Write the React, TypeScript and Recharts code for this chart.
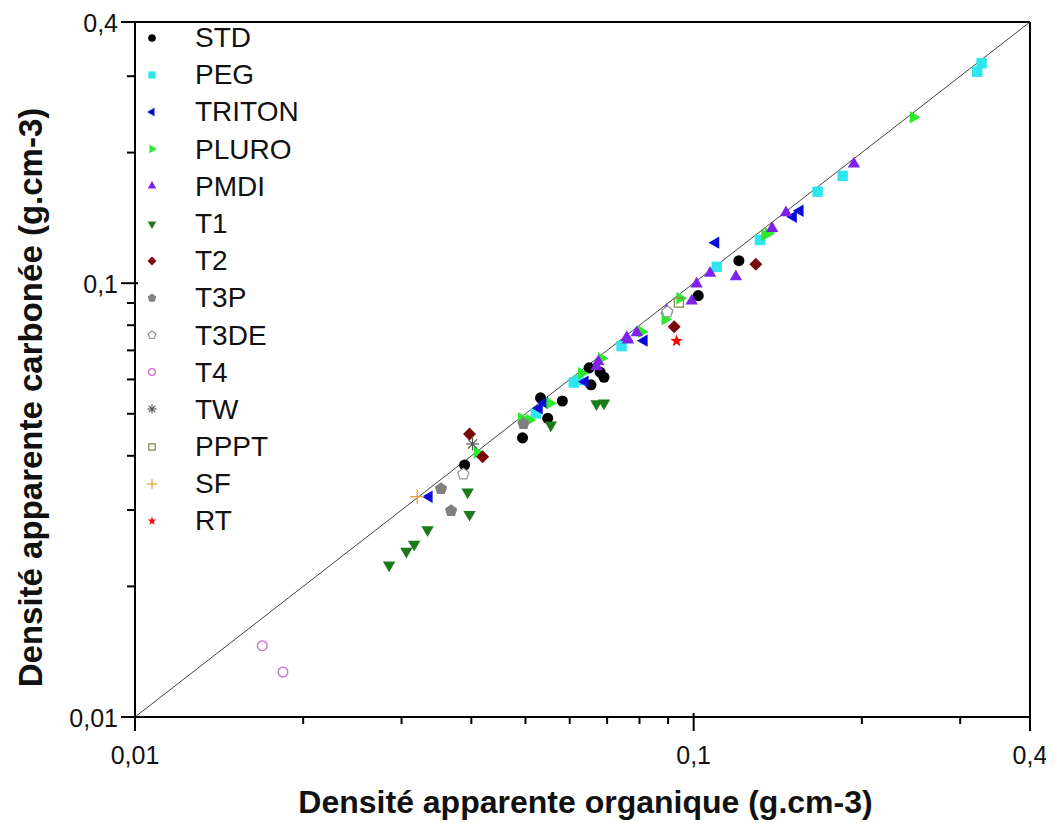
import React from "react";
import {
  ScatterChart,
  Scatter,
  XAxis,
  YAxis,
  ReferenceLine,
} from "recharts";

type Pt = [number, number];

// [densité organique, densité carbonée]
const STD: Pt[] = [
  [0.0389, 0.0381], [0.0494, 0.044], [0.0532, 0.0544], [0.0548, 0.0488],
  [0.0582, 0.0535], [0.065, 0.0638], [0.068, 0.0624], [0.0691, 0.0607],
  [0.0655, 0.0583], [0.1019, 0.0936], [0.1205, 0.1127],
];
const PEG: Pt[] = [
  [0.0522, 0.0501], [0.0622, 0.0598], [0.061, 0.059], [0.0743, 0.0716],
  [0.11, 0.1091], [0.1314, 0.1258], [0.1667, 0.1625], [0.1848, 0.1767],
  [0.3277, 0.3213], [0.3218, 0.3073],
];
const TRITON: Pt[] = [
  [0.0336, 0.0322], [0.0529, 0.0515], [0.054, 0.053], [0.0639, 0.0593],
  [0.0815, 0.0737], [0.1095, 0.124], [0.155, 0.1469], [0.1508, 0.1423],
];
const PLURO: Pt[] = [
  [0.041, 0.0407], [0.0492, 0.0488], [0.0508, 0.0484], [0.0553, 0.0529],
  [0.063, 0.062], [0.0684, 0.0671], [0.0807, 0.0773], [0.0889, 0.0826],
  [0.0945, 0.0923], [0.1341, 0.1291], [0.136, 0.1303], [0.2472, 0.2412],
];
const PMDI: Pt[] = [
  [0.067, 0.0642], [0.0675, 0.0659], [0.0759, 0.075], [0.0763, 0.074],
  [0.0791, 0.0769], [0.0895, 0.0867], [0.0992, 0.091], [0.1012, 0.0996],
  [0.107, 0.1054], [0.119, 0.1035], [0.1382, 0.1338], [0.1463, 0.1454],
  [0.1936, 0.1883],
];
const T1: Pt[] = [
  [0.0285, 0.0224], [0.0306, 0.0241], [0.0316, 0.025], [0.0334, 0.027],
  [0.0394, 0.033], [0.0397, 0.0293], [0.0555, 0.0471], [0.067, 0.0527],
  [0.0691, 0.0529],
];
const T2: Pt[] = [[0.0397, 0.0449], [0.0419, 0.0398], [0.0923, 0.0794], [0.1292, 0.1106]];
const T3P: Pt[] = [[0.0353, 0.0336], [0.0368, 0.0299], [0.0496, 0.0474]];
const T3DE: Pt[] = [[0.0387, 0.0363], [0.0897, 0.0859]];
const T4: Pt[] = [[0.0169, 0.0146], [0.0184, 0.0127]];
const TW: Pt[] = [[0.0402, 0.0426]];
const PPPT: Pt[] = [[0.0941, 0.0902]];
const SF: Pt[] = [[0.032, 0.0322]];
const RT: Pt[] = [[0.0932, 0.0736]];

const TICKS = [0.01, 0.02, 0.03, 0.04, 0.05, 0.06, 0.07, 0.08, 0.09, 0.1, 0.2, 0.3, 0.4];
const MAJOR = [0.01, 0.1, 0.4];

type Kind =
  | "circle" | "square" | "left" | "right" | "up" | "down" | "diamond"
  | "pentagon" | "openPentagon" | "openCircle" | "asterisk" | "openSquare"
  | "plus" | "star";

const SERIES: { name: string; data: Pt[]; color: string; kind: Kind }[] = [
  { name: "STD", data: STD, color: "#000000", kind: "circle" },
  { name: "PEG", data: PEG, color: "#2EE6EE", kind: "square" },
  { name: "TRITON", data: TRITON, color: "#0A0AD8", kind: "left" },
  { name: "PLURO", data: PLURO, color: "#2EE82E", kind: "right" },
  { name: "PMDI", data: PMDI, color: "#7F22E8", kind: "up" },
  { name: "T1", data: T1, color: "#1B7A1B", kind: "down" },
  { name: "T2", data: T2, color: "#7A0A0A", kind: "diamond" },
  { name: "T3P", data: T3P, color: "#808080", kind: "pentagon" },
  { name: "T3DE", data: T3DE, color: "#9A9A9A", kind: "openPentagon" },
  { name: "T4", data: T4, color: "#CC66CC", kind: "openCircle" },
  { name: "TW", data: TW, color: "#555555", kind: "asterisk" },
  { name: "PPPT", data: PPPT, color: "#8C8C50", kind: "openSquare" },
  { name: "SF", data: SF, color: "#E8A040", kind: "plus" },
  { name: "RT", data: RT, color: "#FF0000", kind: "star" },
];

const FONT = "'Liberation Sans', Arial, sans-serif";

const poly = (cx: number, cy: number, r: number, n: number, rot: number) =>
  Array.from({ length: n }, (_, i) => {
    const a = rot + (i * 2 * Math.PI) / n;
    return `${cx + r * Math.cos(a)},${cy + r * Math.sin(a)}`;
  }).join(" ");

const starPts = (cx: number, cy: number, r: number) =>
  Array.from({ length: 10 }, (_, i) => {
    const a = -Math.PI / 2 + (i * Math.PI) / 5;
    const rr = i % 2 === 0 ? r : r * 0.42;
    return `${cx + rr * Math.cos(a)},${cy + rr * Math.sin(a)}`;
  }).join(" ");

const Marker = ({ cx, cy, kind, color, size }: { cx: number; cy: number; kind: Kind; color: string; size: number }) => {
  const r = size / 2;
  switch (kind) {
    case "circle":
      return <circle cx={cx} cy={cy} r={r * 0.85} fill={color} />;
    case "openCircle":
      return <circle cx={cx} cy={cy} r={r * 0.75} fill="none" stroke={color} strokeWidth={1.3} />;
    case "square":
      return <rect x={cx - r * 0.8} y={cy - r * 0.8} width={r * 1.6} height={r * 1.6} fill={color} />;
    case "openSquare":
      return <rect x={cx - r * 0.7} y={cy - r * 0.7} width={r * 1.4} height={r * 1.4} fill="none" stroke={color} strokeWidth={1.3} />;
    case "left":
      return <polygon points={poly(cx, cy, r * 1.1, 3, Math.PI)} fill={color} />;
    case "right":
      return <polygon points={poly(cx, cy, r * 1.1, 3, 0)} fill={color} />;
    case "up":
      return <polygon points={poly(cx, cy, r * 1.1, 3, -Math.PI / 2)} fill={color} />;
    case "down":
      return <polygon points={poly(cx, cy, r * 1.1, 3, Math.PI / 2)} fill={color} />;
    case "diamond":
      return <polygon points={poly(cx, cy, r, 4, 0)} fill={color} />;
    case "pentagon":
      return <polygon points={poly(cx, cy, r, 5, -Math.PI / 2)} fill={color} />;
    case "openPentagon":
      return <polygon points={poly(cx, cy, r * 0.9, 5, -Math.PI / 2)} fill="#fff" stroke={color} strokeWidth={1.3} />;
    case "asterisk":
      return (
        <g stroke={color} strokeWidth={1.2}>
          <line x1={cx} y1={cy - r} x2={cx} y2={cy + r} />
          <line x1={cx - r} y1={cy} x2={cx + r} y2={cy} />
          <line x1={cx - r * 0.7} y1={cy - r * 0.7} x2={cx + r * 0.7} y2={cy + r * 0.7} />
          <line x1={cx - r * 0.7} y1={cy + r * 0.7} x2={cx + r * 0.7} y2={cy - r * 0.7} />
        </g>
      );
    case "plus":
      return (
        <g stroke={color} strokeWidth={1.3}>
          <line x1={cx} y1={cy - r * 1.1} x2={cx} y2={cy + r * 1.1} />
          <line x1={cx - r * 1.1} y1={cy} x2={cx + r * 1.1} y2={cy} />
        </g>
      );
    case "star":
      return <polygon points={starPts(cx, cy, r)} fill={color} />;
  }
  return null;
};

const fmt = (v: number) => String(v).replace(".", ",");

const XTick = (props: any) => {
  const { x, y, payload } = props;
  const major = MAJOR.includes(payload.value);
  return (
    <g>
      <line x1={x} x2={x} y1={major ? y - 4 : y} y2={major ? y + 14 : y + 7} stroke="#000" strokeWidth={2} />
      {major && (
        <text x={x} y={y + 47} textAnchor="middle" fontSize={25} fontFamily={FONT} fill="#111">
          {fmt(payload.value)}
        </text>
      )}
    </g>
  );
};

const YTick = (props: any) => {
  const { x, y, payload } = props;
  const major = MAJOR.includes(payload.value);
  return (
    <g>
      <line x1={major ? x - 14 : x - 8} x2={major ? x + 3 : x} y1={y} y2={y} stroke="#000" strokeWidth={2} />
      {major && (
        <text x={x - 17} y={y + 1} textAnchor="end" dominantBaseline="central" fontSize={25} fontFamily={FONT} fill="#111">
          {fmt(payload.value)}
        </text>
      )}
    </g>
  );
};

const Legend = () => (
  <div style={{ position: "absolute", left: 136, top: 11, fontFamily: FONT, fontSize: 28, color: "#111" }}>
    {SERIES.map((s) => (
      <div key={s.name} style={{ display: "flex", alignItems: "center", height: 37.2 }}>
        <svg width={16} height={16} style={{ marginRight: 35 }}>
          <Marker cx={8} cy={8} kind={s.kind} color={s.color} size={9} />
        </svg>
        <span style={{ lineHeight: "37.2px" }}>{s.name}</span>
      </div>
    ))}
  </div>
);

export default function App() {
  return (
    <div style={{ position: "relative", width: 1040, height: 815 }}>
      <ScatterChart width={1040} height={815} margin={{ top: 14, right: 18, bottom: 9, left: 47 }}>
        <XAxis
          type="number"
          dataKey="x"
          scale="log"
          domain={[0.01, 0.4]}
          allowDataOverflow
          ticks={TICKS}
          interval={0}
          tickSize={0}
          tickMargin={0}
          tickLine={false}
          tick={<XTick />}
          axisLine={{ stroke: "#000", strokeWidth: 2 }}
          height={97}
          label={{
            content: ({ viewBox }: any) => (
              <text
                x={viewBox.x + viewBox.width / 2 + 3}
                y={viewBox.y + 96}
                textAnchor="middle"
                fontSize={32}
                fontWeight="bold"
                fontFamily={FONT}
                fill="#111"
              >
                Densité apparente organique (g.cm-3)
              </text>
            ),
          }}
        />
        <YAxis
          type="number"
          dataKey="y"
          scale="log"
          domain={[0.01, 0.4]}
          allowDataOverflow
          ticks={TICKS}
          interval={0}
          tickSize={0}
          tickMargin={0}
          tickLine={false}
          tick={<YTick />}
          axisLine={{ stroke: "#000", strokeWidth: 2 }}
          width={80}
          label={{
            content: ({ viewBox }: any) => {
              const cx = 22;
              const cy = viewBox.y + viewBox.height / 2 + 28;
              return (
                <text
                  x={cx}
                  y={cy}
                  transform={`rotate(-90 ${cx} ${cy})`}
                  textAnchor="middle"
                  dominantBaseline="central"
                  fontSize={33}
                  fontWeight="bold"
                  fontFamily={FONT}
                  fill="#111"
                >
                  Densité apparente carbonée (g.cm-3)
                </text>
              );
            },
          }}
        />
        <ReferenceLine y={0.4} stroke="#000" strokeWidth={2} />
        <ReferenceLine x={0.4} stroke="#000" strokeWidth={2} />
        <ReferenceLine
          segment={[{ x: 0.01, y: 0.01 }, { x: 0.4, y: 0.4 }]}
          stroke="#444"
          strokeWidth={1}
        />
        {SERIES.map((s) => (
          <Scatter
            key={s.name}
            name={s.name}
            data={s.data.map(([x, y]) => ({ x, y }))}
            isAnimationActive={false}
            shape={(p: any) => <Marker cx={p.cx} cy={p.cy} kind={s.kind} color={s.color} size={13} />}
          />
        ))}
      </ScatterChart>
      <Legend />
    </div>
  );
}
